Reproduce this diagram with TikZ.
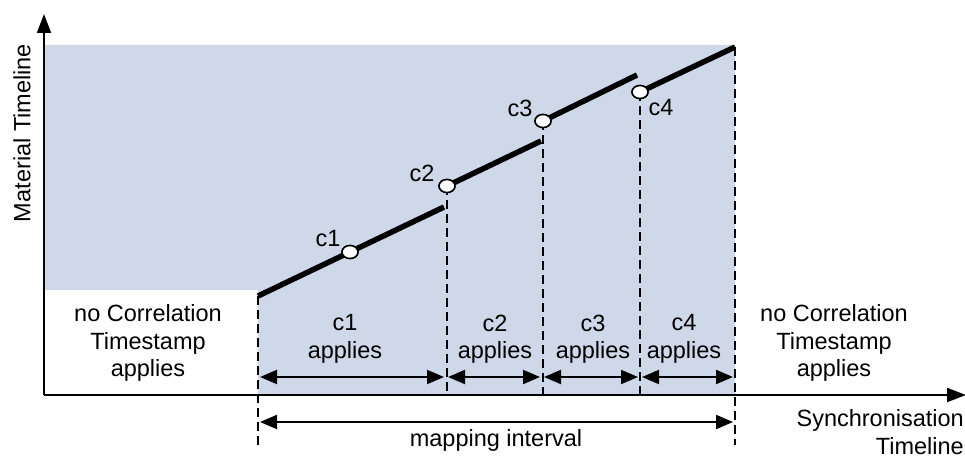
\documentclass[tikz,border=0pt]{standalone}
\usepackage{fontspec}
\setmainfont{Liberation Sans}
\usepackage{tikz}
\usetikzlibrary{arrows.meta,positioning,shapes.geometric}
\definecolor{mapshade}{RGB}{207,216,233}
\definecolor{inkblack}{RGB}{0,0,0}

\begin{document}
\begin{tikzpicture}[x=1pt, y=-1pt,
  lbl/.style={font=\fontsize{23.5}{27.5}\selectfont, align=center, inner sep=0pt},
  axisline/.style={inkblack, line width=1.8pt, -{Triangle[length=19pt, width=14pt]}},
  segline/.style={inkblack, line width=5.5pt},
  guide/.style={inkblack, line width=1.6pt, dash pattern=on 9pt off 5pt},
  span/.style={inkblack, line width=2pt, shorten <=2pt, shorten >=2pt,
    {Triangle[length=17pt, width=14pt]}-{Triangle[length=17pt, width=14pt]}},
  corr/.style={ellipse, draw=inkblack, fill=white, line width=1.5pt,
    minimum width=16pt, minimum height=13pt, inner sep=0pt},
]
  \useasboundingbox (0,0) rectangle (965,460);

  % === SHADED MAPPING AREA ===
  \fill[mapshade] (45,45) -- (735,45) -- (735,394) -- (258,394)
    -- (258,290) -- (45,290) -- cycle;

  % Points of the mapping
  \coordinate (o) at (44,395);
  \coordinate (ytop) at (44,14);
  \coordinate (xend) at (966,395);
  \coordinate (s0) at (258,296);
  \coordinate (e1) at (444,207);
  \coordinate (e2) at (541,141);
  \coordinate (e3) at (637,75);
  \coordinate (e4) at (735,47);

  % Correlation timestamps
  \node[corr] (c1) at (350,252) {};
  \node[corr] (c2) at (447,186) {};
  \node[corr] (c3) at (543,121) {};
  \node[corr] (c4) at (640,92) {};

  % Feet of the guides
  \coordinate (g0) at (258,445);
  \coordinate (g1) at (447,394);
  \coordinate (g2) at (543,394);
  \coordinate (g3) at (640,394);
  \coordinate (g4) at (735,445);

  % === GUIDES ===
  \draw[guide] (s0) -- (g0);
  \draw[guide] (c2.center) -- (g1);
  \draw[guide] (c3.center) -- (g2);
  \draw[guide] (c4.center) -- (g3);
  \draw[guide] (e4) -- (g4);

  % === AXES ===
  \draw[axisline] (o) -- (ytop);
  \draw[axisline] (o) -- (xend);

  % === TIMELINE SEGMENTS ===
  \draw[segline] (s0) -- (e1);
  \draw[segline] (c2.center) -- (e2);
  \draw[segline] (c3.center) -- (e3);
  \draw[segline] (c4.center) -- (e4);
  \foreach \i in {1,...,4} {
    \node[corr] at (c\i) {};
  }

  % Labels of the timestamps
  \node[lbl] (l1) at (328,239) {c1};
  \node[lbl] (l2) at (422,173) {c2};
  \node[lbl] (l3) at (520,108) {c3};
  \node[lbl] (l4) at (661,108) {c4};

  % === RANGES ===
  \foreach \i/\x in {0/258, 1/446, 2/542, 3/640, 4/735} {
    \coordinate (a\i) at (\x,377);
  }
  \foreach \a/\b in {0/1, 1/2, 2/3, 3/4} {
    \draw[span] (a\a) -- (a\b);
  }
  \coordinate (m0) at (258,422);
  \coordinate (m1) at (735,422);
  \draw[span] (m0) -- (m1);

  \node[lbl] (r1) at (345,339) {c1\\applies};
  \node[lbl] (r2) at (495,339) {c2\\applies};
  \node[lbl] (r3) at (593,339) {c3\\applies};
  \node[lbl] (r4) at (684,339) {c4\\applies};
  \node[lbl] (noleft) at (148,343) {no Correlation\\Timestamp\\applies};
  \node[lbl] (noright) at (834,343) {no Correlation\\Timestamp\\applies};
  \node[lbl] (mapping) at (496,440) {mapping interval};

  % Axis titles
  \node[lbl, align=right, anchor=east] (xtitle) at (964,432)
    {Synchronisation\\Timeline};
  \node[lbl, rotate=90] (ytitle) at (22,133) {Material Timeline};
\end{tikzpicture}
\end{document}
